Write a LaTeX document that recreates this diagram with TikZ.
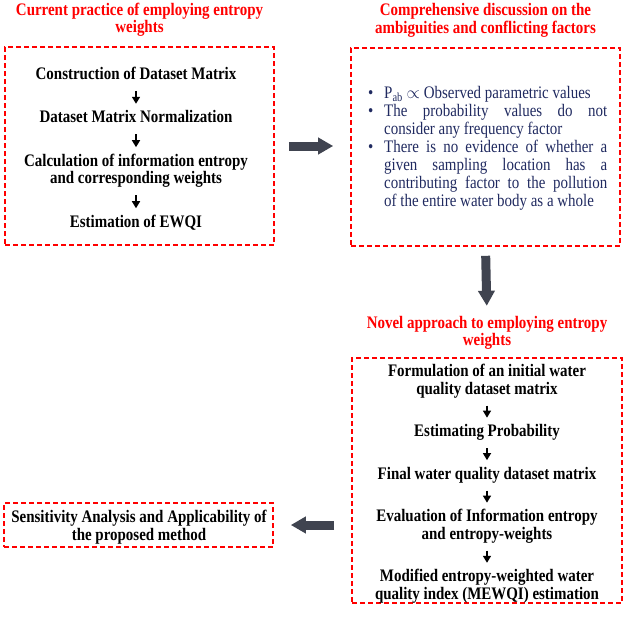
\documentclass[tikz,border=0pt]{standalone}
\usepackage{fontspec}
\setmainfont{Liberation Serif}[FakeStretch=0.85]
\usepackage{enumitem}
\usetikzlibrary{arrows.meta,positioning}

\definecolor{boxred}{RGB}{255,0,0}
\definecolor{navytext}{RGB}{32,42,96}
\definecolor{arrowgray}{RGB}{64,68,80}

\tikzset{
  redbox/.style={draw=boxred, line width=1.6pt, dash pattern=on 5pt off 3pt, inner sep=0pt},
  heading/.style={text=boxred, font=\fontsize{17.6}{17.5}\selectfont\bfseries, align=center, inner sep=0pt},
  stepnode/.style={font=\fontsize{17.6}{17.5}\selectfont\bfseries, align=center, inner sep=0pt},
  steparrow/.style={-{Triangle[length=7pt,width=8pt]}, line width=1.5pt, shorten <=6pt, shorten >=6.5pt},
  bigarrow/.style={-{Triangle[length=15pt,width=16pt]}, line width=9pt, draw=arrowgray},
}

\begin{document}
\begin{tikzpicture}[x=1pt, y=-1pt]
    \useasboundingbox (0,0) rectangle (624,619);

    % Current practice box
    \node[redbox, minimum width=269pt, minimum height=198pt] (practice) at (139.5,146) {};
    \node[heading, above=8pt of practice] (practicetitle) {\strut Current practice of employing entropy\\weights\strut};
    \node[stepnode, anchor=north] (construct) at (136,66.75) {\strut Construction of Dataset Matrix};
    \node[stepnode, below=25.5pt of construct] (normalize) {\strut Dataset Matrix Normalization};
    \node[stepnode, below=25.5pt of normalize] (calculate) {\strut Calculation of information entropy\\and corresponding weights\strut};
    \node[stepnode, below=25.5pt of calculate] (ewqi) {\strut Estimation of EWQI};
    \draw[steparrow] (construct) -- (normalize);
    \draw[steparrow] (normalize) -- (calculate);
    \draw[steparrow] (calculate) -- (ewqi);

    % Discussion box
    \node[redbox, minimum width=269pt, minimum height=198pt] (discussion) at (485.5,147) {};
    \node[heading, above=8pt of discussion] (discussiontitle) {\strut Comprehensive discussion on the\\ambiguities and conflicting factors\strut};
    \node[text=navytext, text width=239pt, align=justify, inner sep=0pt, font=\fontsize{17.6}{18}\selectfont, anchor=west] (issues) at (368,145.5)
      {\begin{itemize}[nosep, leftmargin=16pt, labelwidth=10pt, labelsep=6pt, align=left, label=\textbullet]
        \item P\textsubscript{ab} $\propto$ Observed parametric values
        \item The probability values do not\linebreak consider any frequency factor
        \item There is no evidence of whether a\linebreak given sampling location has a\linebreak contributing factor to the pollution\linebreak of the entire water body as a whole
      \end{itemize}};

    % Novel approach box
    \node[redbox, minimum width=270pt, minimum height=245pt] (novel) at (487,480.5) {};
    \node[heading, above=6pt of novel] (noveltitle) {\strut Novel approach to employing entropy\\weights\strut};
    \node[stepnode, anchor=north] (formulate) at (487,364) {\strut Formulation of an initial water\\quality dataset matrix\strut};
    \node[stepnode, below=24.6pt of formulate] (probability) {\strut Estimating Probability};
    \node[stepnode, below=24.6pt of probability] (finalmatrix) {\strut Final water quality dataset matrix};
    \node[stepnode, below=24.6pt of finalmatrix] (evaluate) {\strut Evaluation of Information entropy\\and entropy-weights\strut};
    \node[stepnode, below=24.6pt of evaluate] (mewqi) {\strut Modified entropy-weighted water\\quality index (MEWQI) estimation\strut};
    \draw[steparrow] (formulate) -- (probability);
    \draw[steparrow] (probability) -- (finalmatrix);
    \draw[steparrow] (finalmatrix) -- (evaluate);
    \draw[steparrow] (evaluate) -- (mewqi);

    % Sensitivity box
    \node[redbox, minimum width=269pt, minimum height=44pt] (sensitivity) at (138.5,525) {};
    \node[stepnode] (sensitivitytext) at (139,528)
      {\strut Sensitivity Analysis and Applicability of\\the proposed method\strut};

    % Gray block arrows between boxes
    \draw[bigarrow, shorten <=14pt, shorten >=17pt] (practice.east) -- (practice.east -| discussion.west);
    \draw[bigarrow, shorten <=9pt, shorten >=10pt] (discussion.south) -- (noveltitle.north);
    \draw[bigarrow, shorten <=17pt, shorten >=17pt] (novel.west |- sensitivity.east) -- (sensitivity.east);

\end{tikzpicture}
\end{document}
